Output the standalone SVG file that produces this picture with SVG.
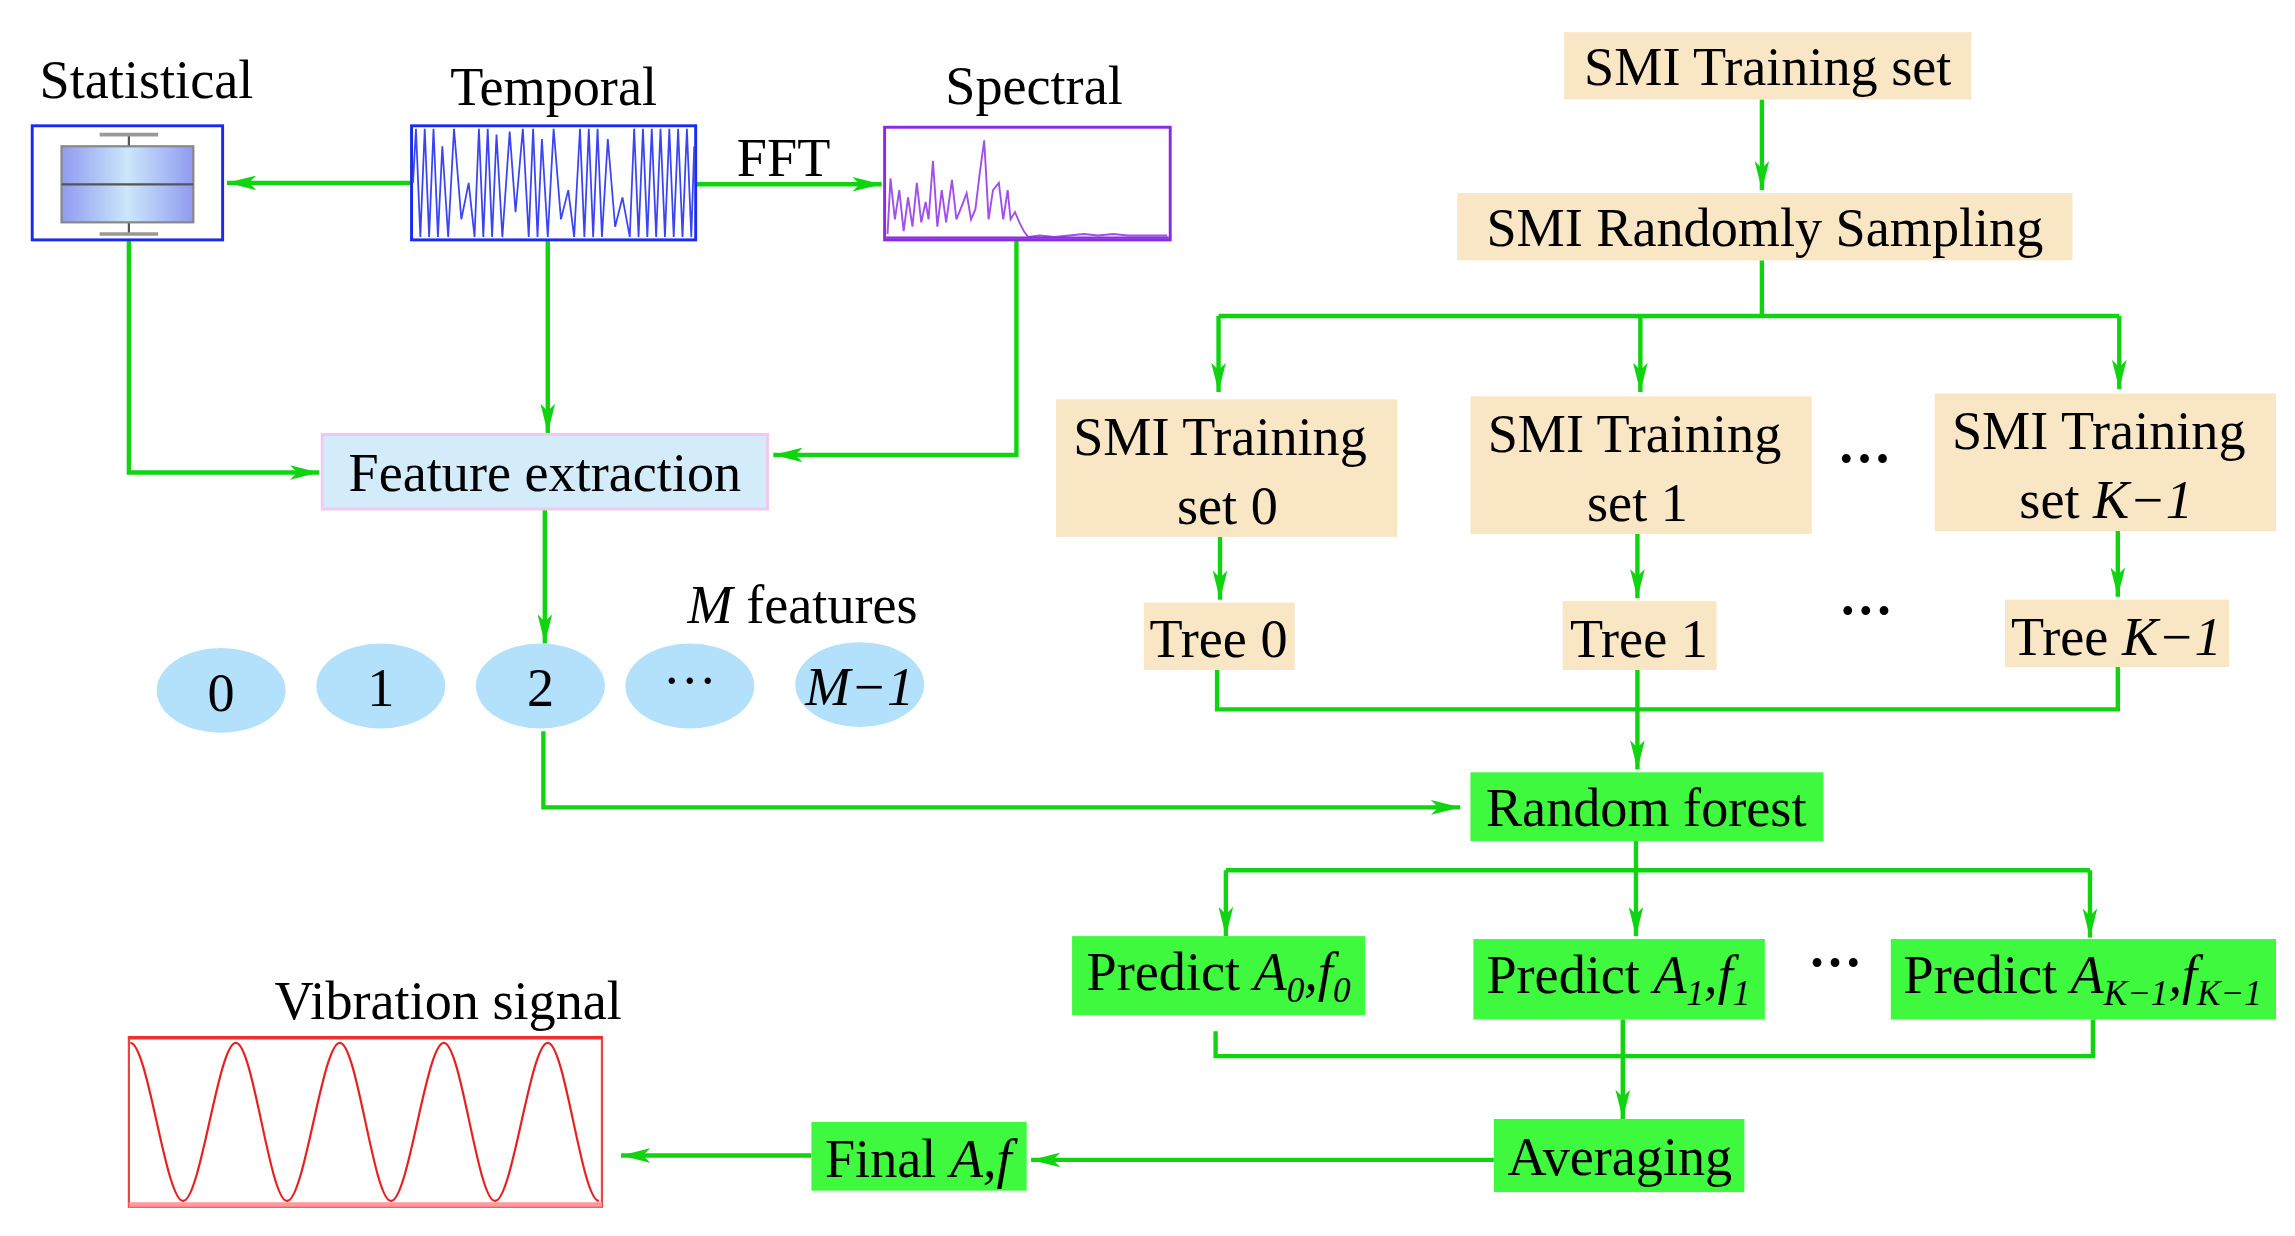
<svg xmlns="http://www.w3.org/2000/svg" width="2295" height="1236" viewBox="0 0 2295 1236">
<defs>
<style>
text{font-family:"Liberation Serif","Times New Roman",serif;font-size:37px;fill:#000}
.c{text-anchor:middle}
.ln{fill:none;stroke:#11d411;stroke-width:3}
.tan{fill:#f8e6c5}
.grn{fill:#3ef93e}
.ell{fill:#b3e0fb}
</style>
<marker id="ah" viewBox="0 0 20 10" refX="20" refY="5" markerWidth="20" markerHeight="10" markerUnits="userSpaceOnUse" orient="auto">
<path d="M0,0 L20,5 L0,10 L5,5 Z" fill="#11d411"/>
</marker>
<linearGradient id="bx" x1="0" x2="1" y1="0" y2="0">
<stop offset="0" stop-color="#8f9bf0"/><stop offset="0.5" stop-color="#cbe7fb"/><stop offset="1" stop-color="#8f9bf0"/>
</linearGradient>
</defs>
<rect width="2295" height="1236" fill="#fff"/>
<g transform="scale(1.4646 1.4627)">
<g id="connectors" class="ln">
<path class="ln" d="M281,125 H155" marker-end="url(#ah)"/>
<path class="ln" d="M475,126 H602" marker-end="url(#ah)"/>
<path class="ln" d="M88,164 V323 H218" marker-end="url(#ah)"/>
<path class="ln" d="M374,164 V296" marker-end="url(#ah)"/>
<path class="ln" d="M694,164 V311 H528" marker-end="url(#ah)"/>
<path class="ln" d="M372,348 V440" marker-end="url(#ah)"/>
<path class="ln" d="M371,500 V552 H997" marker-end="url(#ah)"/>
<path class="ln" d="M1203,68 V130" marker-end="url(#ah)"/>
<path class="ln" d="M1203,178 V216 M832,216 H1447"/>
<path class="ln" d="M832,216 V268" marker-end="url(#ah)"/>
<path class="ln" d="M1120,216 V268" marker-end="url(#ah)"/>
<path class="ln" d="M1447,216 V266" marker-end="url(#ah)"/>
<path class="ln" d="M833,367 V410" marker-end="url(#ah)"/>
<path class="ln" d="M1118,365 V409" marker-end="url(#ah)"/>
<path class="ln" d="M1446,362 V408" marker-end="url(#ah)"/>
<path class="ln" d="M831,458 V485 H1446 V456"/>
<path class="ln" d="M1118,458 V526" marker-end="url(#ah)"/>
<path class="ln" d="M1117,575 V640" marker-end="url(#ah)"/>
<path class="ln" d="M837,595 H1427"/>
<path class="ln" d="M837,595 V640" marker-end="url(#ah)"/>
<path class="ln" d="M1427,595 V641" marker-end="url(#ah)"/>
<path class="ln" d="M830,705 V722 H1429 V697"/>
<path class="ln" d="M1108,697 V765" marker-end="url(#ah)"/>
<path class="ln" d="M1020,793 H704" marker-end="url(#ah)"/>
<path class="ln" d="M554,790 H424" marker-end="url(#ah)"/>
</g>
<g id="statistical">
<text x="100" y="67" class="c">Statistical</text>
<rect x="22" y="86" width="130" height="78" fill="#fff" stroke="#1a2bf0" stroke-width="2"/>
<path d="M88,92 V100 M88,152 V160" stroke="#555" stroke-width="1.5"/>
<path d="M68,92 H108 M68,160 H108" stroke="#999" stroke-width="2.5"/>
<rect x="42" y="100" width="90" height="52" fill="url(#bx)" stroke="#888" stroke-width="1.5"/>
<path d="M42,126 H132" stroke="#555" stroke-width="1.5"/>
</g>
<g id="temporal">
<text x="378" y="72" class="c">Temporal</text>
<rect x="281" y="86" width="194" height="78" fill="#fff" stroke="#1a2bf0" stroke-width="2"/>
<path fill="none" stroke="#3a44f5" stroke-width="1.2" d="M282,125 L284,88 L287,162 L290,88 L293,162 L296,88 L299,162 L302,100 L306,162 L310,88 L315,150 L320,125 L324,162 L327,88 L330,162 L333,88 L336,162 L339,92 L343,162 L348,90 L352,145 L357,88 L361,162 L364,88 L367,162 L370,95 L374,162 L378,88 L383,150 L388,130 L392,162 L396,88 L399,162 L402,88 L405,162 L408,88 L411,162 L415,95 L420,155 L425,135 L430,162 L433,88 L436,162 L439,88 L442,162 L445,88 L448,162 L451,88 L454,162 L457,88 L460,162 L463,88 L466,162 L469,88 L472,162 L474,100"/>
</g>
<text x="535" y="120" class="c">FFT</text>
<g id="spectral">
<text x="706" y="71" class="c">Spectral</text>
<rect x="604" y="87" width="195" height="77" fill="#fff" stroke="#8a2be2" stroke-width="2"/>
<polyline fill="none" stroke="#a050e8" stroke-width="1.3" points="606,160 608,122 611,150 614,130 617,158 620,135 623,155 626,125 629,152 632,138 634,150 637,110 640,155 643,130 646,152 650,123 653,150 657,140 660,132 663,150 666,143 669,118 672,96 675,150 678,130 682,125 685,150 688,130 690,150 693,145 696,152 699,158 702,162 710,161 720,162 730,161 740,160 750,161 760,160 770,161 797,161"/>
<path d="M605,162.5 H798" stroke="#8a2be2" stroke-width="1.5"/>
</g>
<g id="feature">
<rect x="220" y="297" width="304" height="51" fill="#d4ecfa" stroke="#f0c8f0" stroke-width="2"/>
<text x="372" y="336" class="c">Feature extraction</text>
</g>
<text x="548" y="426" class="c"><tspan font-style="italic">M</tspan> features</text>
<g id="f0"><ellipse cx="151" cy="472" rx="44" ry="29" class="ell"/><text x="151" y="486" class="c">0</text></g>
<g id="f1"><ellipse cx="260" cy="469" rx="44" ry="29" class="ell"/><text x="260" y="483" class="c">1</text></g>
<g id="f2"><ellipse cx="369" cy="469" rx="44" ry="29" class="ell"/><text x="369" y="483" class="c">2</text></g>
<g id="fdots"><ellipse cx="471" cy="469" rx="44" ry="29" class="ell"/><text x="471" y="478" class="c">···</text></g>
<g id="fm"><ellipse cx="587" cy="468" rx="44" ry="29" class="ell"/><text x="587" y="482" class="c" font-style="italic">M−1</text></g>
<g id="smi-set"><rect x="1068" y="22" width="278" height="46" class="tan"/><text x="1207" y="58" class="c">SMI Training set</text></g>
<g id="smi-sampling"><rect x="995" y="132" width="420" height="46" class="tan"/><text x="1205" y="168" class="c">SMI Randomly Sampling</text></g>
<g id="set0"><rect x="721" y="273" width="233" height="94" class="tan"/><text x="833" y="311" class="c">SMI Training</text><text x="838" y="358" class="c">set 0</text></g>
<g id="set1"><rect x="1004" y="271" width="233" height="94" class="tan"/><text x="1116" y="309" class="c">SMI Training</text><text x="1118" y="356" class="c">set 1</text></g>
<g id="setk"><rect x="1321" y="269" width="233" height="94" class="tan"/><text x="1433" y="307" class="c">SMI Training</text><text x="1438" y="354" class="c">set <tspan font-style="italic">K−1</tspan></text></g>
<text x="1273" y="326" class="c" font-weight="bold">···</text>
<text x="1274" y="430" class="c" font-weight="bold">···</text>
<text x="1253" y="671" class="c" font-weight="bold">···</text>
<g id="tree0"><rect x="781" y="412" width="103" height="46" class="tan"/><text x="832" y="449" class="c">Tree 0</text></g>
<g id="tree1"><rect x="1067" y="411" width="105" height="47" class="tan"/><text x="1119" y="449" class="c">Tree 1</text></g>
<g id="treek"><rect x="1369" y="410" width="153" height="46" class="tan"/><text x="1445" y="448" class="c">Tree <tspan font-style="italic">K−1</tspan></text></g>
<g id="rf"><rect x="1004" y="528" width="241" height="47" class="grn"/><text x="1124" y="565" class="c">Random forest</text></g>
<g id="p0"><rect x="732" y="640" width="200" height="54" class="grn"/><text x="832" y="677" class="c">Predict <tspan font-style="italic">A<tspan font-size="24" dy="8">0</tspan><tspan dy="-8">,f</tspan><tspan font-size="24" dy="8">0</tspan></tspan></text></g>
<g id="p1"><rect x="1006" y="642" width="199" height="55" class="grn"/><text x="1105" y="679" class="c">Predict <tspan font-style="italic">A<tspan font-size="24" dy="8">1</tspan><tspan dy="-8">,f</tspan><tspan font-size="24" dy="8">1</tspan></tspan></text></g>
<g id="pk"><rect x="1291" y="642" width="263" height="55" class="grn"/><text x="1422" y="679" class="c">Predict <tspan font-style="italic">A<tspan font-size="24" dy="8">K−1</tspan><tspan dy="-8">,f</tspan><tspan font-size="24" dy="8">K−1</tspan></tspan></text></g>
<g id="avg"><rect x="1020" y="765" width="171" height="50" class="grn"/><text x="1106" y="803" class="c">Averaging</text></g>
<g id="final"><rect x="554" y="767" width="147" height="47" class="grn"/><text x="627" y="805" class="c">Final <tspan font-style="italic">A,f</tspan></text></g>
<g id="vibration">
<text x="306" y="697" class="c">Vibration signal</text>
<rect x="88" y="709" width="323" height="116" fill="#fff" stroke="#f04040" stroke-width="1.5"/>
<path d="M88,709.5 H411" stroke="#f03030" stroke-width="2.5"/>
<path d="M88,823.5 H411" stroke="#ff9a9a" stroke-width="3"/>
<path fill="none" stroke="#e82020" stroke-width="1.5" d="M89,713 C101,713 113,821 125,821 C137,821 149,713 161,713 C173,713 184,821 196,821 C208,821 220,713 232,713 C244,713 255,821 267,821 C279,821 291,713 303,713 C315,713 326,821 338,821 C350,821 362,713 374,713 C386,713 397,821 409,821"/>
</g>
</g>
</svg>
